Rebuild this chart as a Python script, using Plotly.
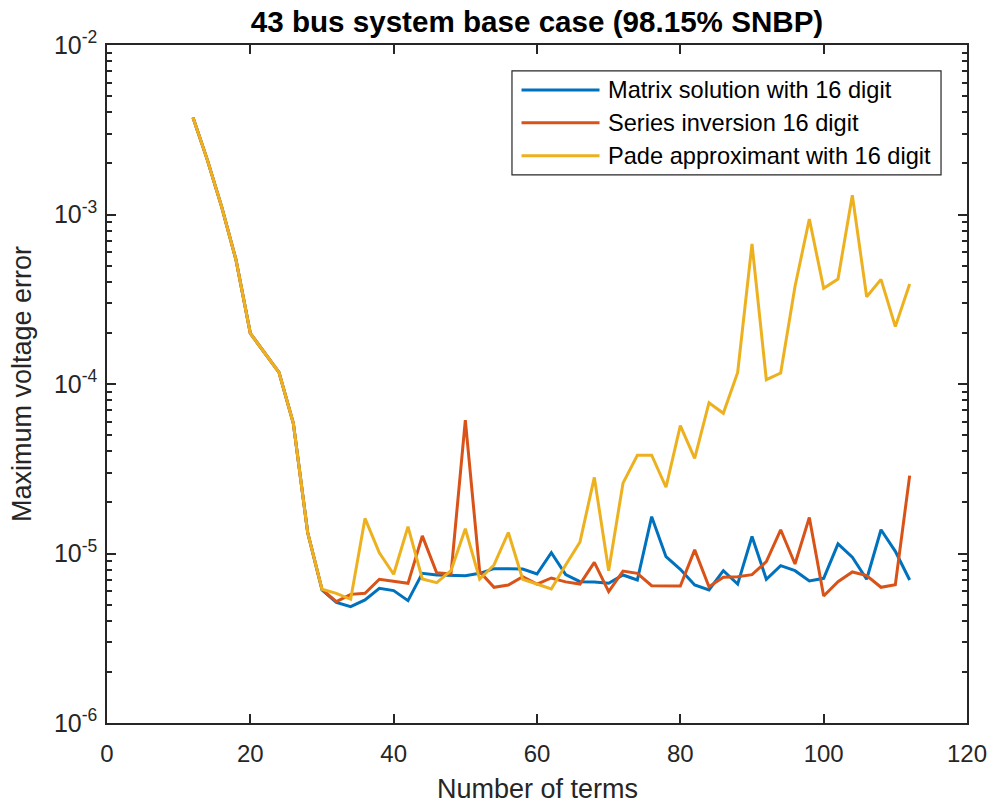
import plotly.graph_objects as go

# Number of terms
terms = list(range(12, 114, 2))

# Common initial part (x = 12 .. 28), identical for all methods
common_head = [3.74e-3, 2.10e-3, 1.11e-3, 5.40e-4, 1.99e-4, 1.52e-4, 1.17e-4, 5.86e-5, 1.33e-5]

# x = 30 .. 112
matrix_tail = [6.10e-6, 5.15e-6, 4.86e-6, 5.32e-6, 6.24e-6, 6.04e-6, 5.27e-6, 7.64e-6, 7.47e-6, 7.40e-6,
               7.40e-6, 7.64e-6, 8.14e-6, 8.14e-6, 8.10e-6, 7.57e-6, 1.01e-5, 7.50e-6, 6.82e-6, 6.78e-6,
               6.67e-6, 7.47e-6, 6.98e-6, 1.65e-5, 9.57e-6, 8.07e-6, 6.52e-6, 6.09e-6, 7.92e-6, 6.60e-6,
               1.26e-5, 7.05e-6, 8.48e-6, 7.92e-6, 6.89e-6, 7.14e-6, 1.14e-5, 9.50e-6, 7.05e-6, 1.38e-5,
               1.03e-5, 6.98e-6]

series_tail = [6.15e-6, 5.20e-6, 5.74e-6, 5.82e-6, 7.05e-6, 6.85e-6, 6.67e-6, 1.27e-5, 7.70e-6, 7.57e-6,
               6.13e-5, 7.82e-6, 6.32e-6, 6.52e-6, 7.30e-6, 6.60e-6, 7.17e-6, 6.80e-6, 6.60e-6, 8.87e-6,
               5.96e-6, 7.88e-6, 7.64e-6, 6.46e-6, 6.46e-6, 6.43e-6, 1.05e-5, 6.37e-6, 7.24e-6, 7.30e-6,
               7.50e-6, 8.95e-6, 1.38e-5, 8.67e-6, 1.63e-5, 5.61e-6, 6.82e-6, 7.78e-6, 7.40e-6, 6.32e-6,
               6.55e-6, 2.88e-5]

pade_tail = [6.15e-6, 5.82e-6, 5.37e-6, 1.61e-5, 1.01e-5, 7.54e-6, 1.44e-5, 7.07e-6, 6.73e-6, 7.92e-6,
             1.40e-5, 7.05e-6, 8.56e-6, 1.33e-5, 7.05e-6, 6.61e-6, 6.18e-6, 8.56e-6, 1.17e-5, 2.81e-5,
             7.92e-6, 2.60e-5, 3.80e-5, 3.80e-5, 2.46e-5, 5.68e-5, 3.64e-5, 7.76e-5, 6.72e-5, 1.17e-4,
             6.70e-4, 1.06e-4, 1.16e-4, 3.76e-4, 9.40e-4, 3.67e-4, 4.16e-4, 1.30e-3, 3.27e-4, 4.14e-4,
             2.18e-4, 3.89e-4]

series_names = ["Matrix solution with 16 digit", "Series inversion 16 digit", "Pade approximant with 16 digit"]
series_colors = ["#0072BD", "#D95319", "#EDB120"]

x_ticks = [0, 20, 40, 60, 80, 100, 120]
y_ticks = [1e-6, 1e-5, 1e-4, 1e-3, 1e-2]
y_ticktext = ["10<sup>-6</sup>", "10<sup>-5</sup>", "10<sup>-4</sup>", "10<sup>-3</sup>", "10<sup>-2</sup>"]
y_minor = [k * 10.0 ** e for e in range(-6, -2) for k in range(2, 10)]

x_title = "Number of terms"
y_title = "Maximum voltage error"
chart_title = "43 bus system base case (98.15% SNBP)"

values = [common_head + matrix_tail, common_head + series_tail, common_head + pade_tail]

FONT = "Liberation Sans, Arial, sans-serif"
AX = "#262626"

fig = go.Figure()
for name, col, ys in zip(series_names, series_colors, values):
    fig.add_trace(go.Scatter(x=terms, y=ys, mode="lines", name=name,
                             line=dict(color=col, width=3), showlegend=False))

# Custom legend (MATLAB style: long line samples inside a boxed area)
L_X0, L_X1, L_Y0, L_Y1 = 0.4709, 0.9698, 0.8083, 0.9617
row_y = [0.9336, 0.8854, 0.8367]
shapes = [dict(type="rect", xref="paper", yref="paper", x0=L_X0, x1=L_X1, y0=L_Y0, y1=L_Y1,
               line=dict(color=AX, width=1.2), fillcolor="white", layer="above")]
annotations = []
for name, col, ry in zip(series_names, series_colors, row_y):
    shapes.append(dict(type="line", xref="paper", yref="paper", x0=0.4820, x1=0.5727, y0=ry, y1=ry,
                       line=dict(color=col, width=3), layer="above"))
    annotations.append(dict(text=name, xref="paper", yref="paper", x=0.5802, y=ry,
                            xanchor="left", yanchor="middle", showarrow=False,
                            font=dict(family=FONT, size=23.6, color="black")))

# Axis titles
annotations.append(dict(text=x_title, xref="paper", yref="paper", x=0.5, y=-0.0973,
                        xanchor="center", yanchor="middle", showarrow=False,
                        font=dict(family=FONT, size=27, color=AX)))
annotations.append(dict(text=y_title, xref="paper", yref="paper", x=-0.0988, y=0.5,
                        xanchor="center", yanchor="middle", showarrow=False, textangle=-90,
                        font=dict(family=FONT, size=27, color=AX)))

fig.update_layout(
    width=995, height=807,
    margin=dict(l=107, r=28, t=45, b=84, autoexpand=False),
    paper_bgcolor="white", plot_bgcolor="white",
    font=dict(family=FONT, color=AX, size=24),
    title=dict(text="<b>" + chart_title + "</b>",
               x=0.5, xref="paper", xanchor="center",
               y=1 - 22 / 807, yanchor="middle",
               font=dict(family=FONT, size=29.6, color="black")),
    shapes=shapes,
    annotations=annotations,
)

fig.update_xaxes(range=[0, 120], tickmode="array", tickvals=x_ticks, automargin=False,
                 ticks="inside", ticklen=9, tickwidth=1.5, tickcolor=AX,
                 showline=True, linecolor=AX, linewidth=1.5, mirror="ticks",
                 showgrid=False, zeroline=False, ticklabelstandoff=8,
                 tickfont=dict(family=FONT, size=24, color=AX))

fig.update_yaxes(type="log", range=[-6, -2], tickmode="array", tickvals=y_ticks, ticktext=y_ticktext,
                 automargin=False,
                 ticks="inside", ticklen=9, tickwidth=1.5, tickcolor=AX,
                 showline=True, linecolor=AX, linewidth=1.5, mirror="ticks",
                 showgrid=False, zeroline=False, ticklabelstandoff=3,
                 minor=dict(tickmode="array", tickvals=y_minor, ticks="inside", ticklen=5,
                            tickwidth=1.5, tickcolor=AX, showgrid=False),
                 tickfont=dict(family=FONT, size=25, color=AX))

fig.write_html("out.html")
